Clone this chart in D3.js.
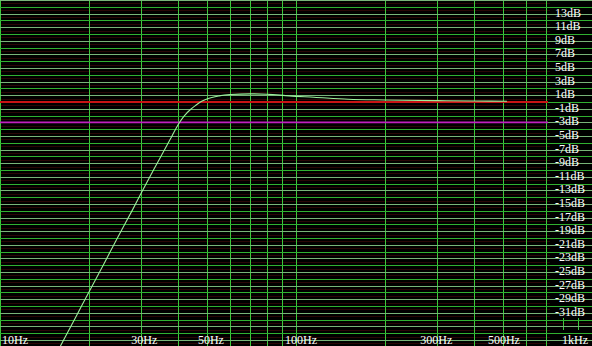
<!DOCTYPE html>
<html>
<head>
<meta charset="utf-8">
<script src="https://cdn.jsdelivr.net/npm/d3@7"></script>
<style>
  html, body { margin: 0; padding: 0; background: #000; }
  svg { display: block; }
</style>
</head>
<body>
<svg id="chart" width="592" height="346"></svg>
<script>
// response curve
const freqs = [15, 16, 18, 20, 22.5, 25, 28, 30, 33, 36, 38, 40, 42, 44, 46, 48, 50, 55, 60, 70, 80, 95, 115, 150, 200, 300, 400, 516];
const gains = [-38.2, -35.9, -31.7, -27.9, -23.7, -19.9, -15.9, -13.4, -10.0, -7.0, -5.1, -3.3, -2.0, -1.1, -0.45, 0.1, 0.45, 0.9, 1.1, 1.2, 1.15, 0.9, 0.7, 0.4, 0.3, 0.2, 0.15, 0.1];

const gridFreqs = [20, 30, 40, 50, 60, 70, 80, 90, 100, 200, 300, 400, 500, 600, 700, 800, 900];
const dbLabels = [13, 11, 9, 7, 5, 3, 1, -1, -3, -5, -7, -9, -11, -13, -15, -17, -19, -21, -23, -25, -27, -29, -31];
const hzLabels = [10, 30, 50, 100, 300, 500, 1000];
const hzText = ['10Hz', '30Hz', '50Hz', '100Hz', '300Hz', '500Hz', '1kHz'];
const refLevels = [0, -3];

const W = 592, H = 346;
const svg = d3.select('#chart');

const x = d3.scaleLog().domain([10, 1000]).range([0, W]);
const y = d3.scaleLinear().domain([0, -31]).range([102, 312.8]);

svg.append('rect').attr('width', W).attr('height', H).attr('fill', '#000');

// faint half-dB lines
const halfLines = d3.range(15, -37, -1).map(d => d - 0.5);
svg.append('g').selectAll('line')
    .data(halfLines)
    .enter().append('line')
    .attr('x1', 0).attr('x2', W)
    .attr('y1', d => Math.round(y(d)) + 0.5).attr('y2', d => Math.round(y(d)) + 0.5)
    .attr('stroke', '#2a0606');

// vertical grid
svg.append('g').selectAll('line')
    .data([10].concat(gridFreqs))
    .enter().append('line')
    .attr('x1', d => Math.round(x(d)) + 0.5).attr('x2', d => Math.round(x(d)) + 0.5)
    .attr('y1', 0).attr('y2', H)
    .attr('stroke', '#3cc83c');

// label column hides the verticals
svg.append('rect').attr('x', 550).attr('y', 0).attr('width', W - 550).attr('height', 318).attr('fill', '#000');
svg.append('rect').attr('x', 550).attr('y', 330).attr('width', W - 550).attr('height', H - 330).attr('fill', '#000');

// horizontal grid, every dB
const dbLines = d3.range(15, -37, -1);
svg.append('g').selectAll('line')
    .data(dbLines)
    .enter().append('line')
    .attr('x1', 0).attr('x2', W)
    .attr('y1', d => Math.round(y(d)) + 0.5).attr('y2', d => Math.round(y(d)) + 0.5)
    .attr('stroke', d => (Math.abs(d) % 2 === 1 ? '#78b478' : '#30b030'));

// 0 dB and -3 dB markers
svg.append('g').selectAll('line')
    .data(refLevels)
    .enter().append('line')
    .attr('x1', 0).attr('x2', 548)
    .attr('y1', d => y(d)).attr('y2', d => y(d))
    .attr('stroke', d => (d === 0 ? '#c81414' : '#c020c0'))
    .attr('stroke-width', d => (d === 0 ? 2.2 : 1.6));

// curve
const pts = freqs.map((f, i) => [f, gains[i]]);
svg.append('path')
    .datum(pts)
    .attr('fill', 'none')
    .attr('stroke', '#9cf09c')
    .attr('stroke-width', 1.1)
    .attr('d', d3.line().x(d => x(d[0])).y(d => y(d[1])).curve(d3.curveMonotoneX));

// dB labels
svg.append('g').selectAll('text')
    .data(dbLabels)
    .enter().append('text')
    .attr('x', 555)
    .attr('y', d => y(d) + 3)
    .attr('fill', '#fff')
    .attr('font-family', 'Liberation Serif, Times New Roman, serif')
    .attr('font-size', 12)
    .text(d => (d < 0 ? '-' + Math.abs(d) : d) + 'dB');

// Hz labels
const hzShift = [2, 3, 4, 5, -1, 1, -4];
svg.append('g').selectAll('text')
    .data(hzLabels)
    .enter().append('text')
    .attr('x', (d, i) => x(d) + hzShift[i])
    .attr('y', 344)
    .attr('text-anchor', (d, i) => (i === 0 ? 'start' : i === hzLabels.length - 1 ? 'end' : 'middle'))
    .attr('fill', '#fff')
    .attr('font-family', 'Liberation Serif, Times New Roman, serif')
    .attr('font-size', 12)
    .text((d, i) => hzText[i]);
</script>
</body>
</html>
